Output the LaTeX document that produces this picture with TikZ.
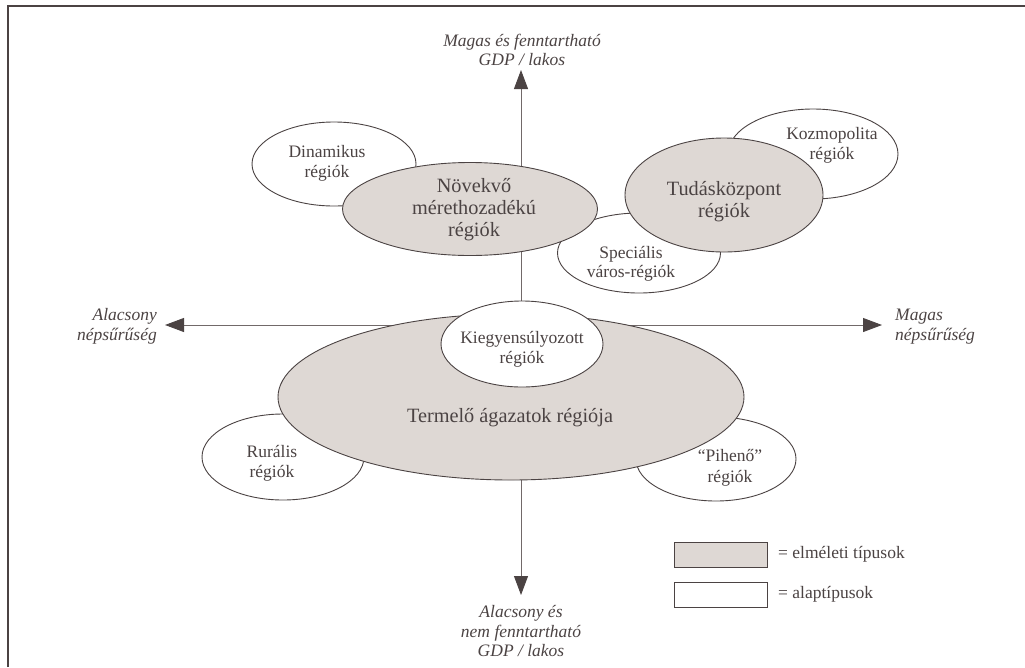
\documentclass[tikz,border=0pt]{standalone}
\usepackage{fontspec}
\setmainfont{Liberation Serif}
\usetikzlibrary{shapes.geometric,arrows.meta}
\definecolor{ink}{HTML}{4B4343}
\definecolor{axisc}{HTML}{716969}
\definecolor{fillg}{HTML}{DED8D4}
\begin{document}
\begin{tikzpicture}[x=1pt,y=-1pt,
  base/.style={ellipse, draw=ink, line width=0.9pt, inner sep=0pt},
  theo/.style={base, fill=fillg},
  basic/.style={base, fill=white},
  lbig/.style={text=ink, anchor=base, inner sep=0pt, font=\fontsize{20.3}{22}\selectfont},
  lsmall/.style={text=ink, anchor=base, inner sep=0pt, font=\fontsize{17.5}{20}\selectfont},
  axlab/.style={text=ink, anchor=base, inner sep=0pt, font=\fontsize{17.5}{19}\selectfont\itshape},
  legtext/.style={text=ink, anchor=base west, inner sep=0pt, font=\fontsize{17.5}{19}\selectfont},
  axisline/.style={draw=axisc, line width=0.9pt, -{Triangle[length=19pt,width=14pt,color=ink]}},
  legbox/.style={draw=ink, line width=0.9pt, minimum width=93pt, minimum height=25pt, inner sep=0pt}
]
\useasboundingbox (0,0) rectangle (1025,667);
% frame
\draw[ink, line width=1.3pt] (8,667) -- (8,6) -- (1025,6);

% axes
\coordinate (O) at (521,325);
\coordinate (tN) at (521,70);
\coordinate (tS) at (521,595);
\coordinate (tW) at (165,325);
\coordinate (tE) at (882,325);
\draw[axisline] (O) -- (tN);
\draw[axisline] (O) -- (tS);
\draw[axisline] (O) -- (tW);
\draw[axisline] (O) -- (tE);

% basic (white) types, underneath
\node[basic, minimum width=164, minimum height=84] (dina) at (334,164) {};
\node[basic, minimum width=163, minimum height=80] (spec) at (639,253) {};
\node[basic, minimum width=170, minimum height=90] (kozmo) at (813,154) {};
\node[basic, minimum width=162, minimum height=86] (rural) at (283,457) {};
\node[basic, minimum width=160, minimum height=84] (piheno) at (716,459) {};

% theoretical (grey) types
\node[theo, minimum width=255, minimum height=93] (novek) at (470,209) {};
\node[theo, minimum width=198, minimum height=114] (tudas) at (724,195) {};
\node[theo, minimum width=466, minimum height=166] (termel) at (511,397) {};

% balanced, on top
\node[basic, minimum width=162, minimum height=86] (kiegy) at (522,344) {};

% labels of the grey types
\node[lbig] (novek1) at (474,192) {Növekvő};
\node[lbig] (novek2) at (474,214) {mérethozadékú};
\node[lbig] (novek3) at (474,236) {régiók};
\node[lbig] (tudas1) at (724,195) {Tudásközpont};
\node[lbig] (tudas2) at (724,217) {régiók};
\node[lbig] (termel1) at (510,422) {Termelő ágazatok régiója};

% labels of the white types
\node[lsmall] (dina1) at (327,157) {Dinamikus};
\node[lsmall] (dina2) at (327,177) {régiók};
\node[lsmall] (kozmo1) at (832,139) {Kozmopolita};
\node[lsmall] (kozmo2) at (832,159) {régiók};
\node[lsmall] (spec1) at (631,258) {Speciális};
\node[lsmall] (spec2) at (631,277) {város-régiók};
\node[lsmall] (kiegy1) at (522,343) {Kiegyensúlyozott};
\node[lsmall] (kiegy2) at (522,363) {régiók};
\node[lsmall] (rural1) at (272,457) {Rurális};
\node[lsmall] (rural2) at (272,477) {régiók};
\node[lsmall] (piheno1) at (730,461) {“Pihenő”};
\node[lsmall] (piheno2) at (730,482) {régiók};

% axis labels
\node[axlab] (labN1) at (522,46) {Magas és fenntartható};
\node[axlab] (labN2) at (522,65) {GDP / lakos};
\node[axlab] (labS1) at (521,617) {Alacsony és};
\node[axlab] (labS2) at (521,637) {nem fenntartható};
\node[axlab] (labS3) at (521,656) {GDP / lakos};
\node[axlab, anchor=base east] (labW1) at (157,320) {Alacsony};
\node[axlab, anchor=base east] (labW2) at (157,340) {népsűrűség};
\node[axlab, anchor=base west] (labE1) at (895,320) {Magas};
\node[axlab, anchor=base west] (labE2) at (895,340) {népsűrűség};

% legend
\node[legbox, fill=fillg] (legG) at (720.5,554.5) {};
\node[legbox, fill=white] (legW) at (720.5,594.5) {};
\node[legtext] (legGT) at (778,558) {= elméleti típusok};
\node[legtext] (legWT) at (778,598) {= alaptípusok};
\end{tikzpicture}
\end{document}
